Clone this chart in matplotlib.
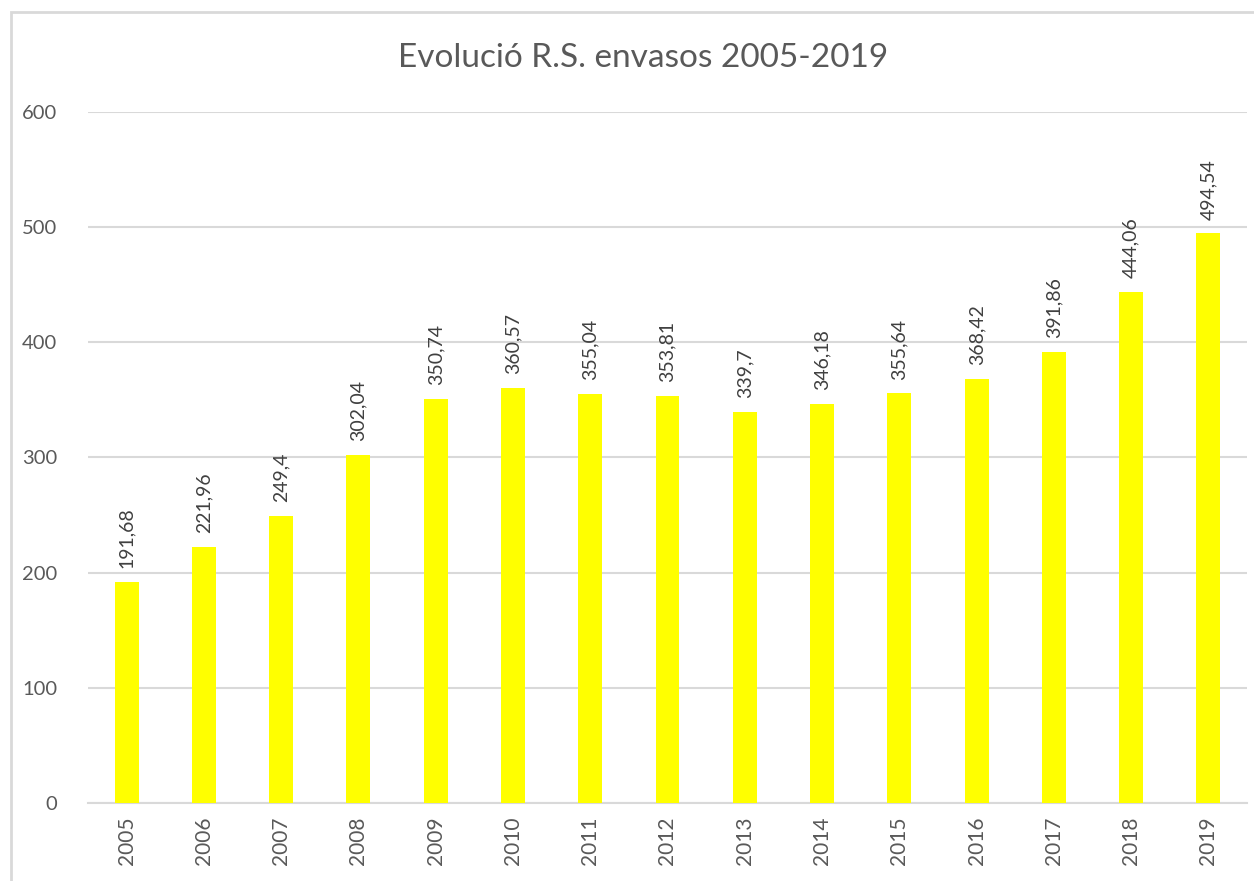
import matplotlib
matplotlib.use("Agg")
import matplotlib.pyplot as plt
from matplotlib.patches import Rectangle

years = ["2005", "2006", "2007", "2008", "2009", "2010", "2011", "2012",
         "2013", "2014", "2015", "2016", "2017", "2018", "2019"]
values = [191.68, 221.96, 249.4, 302.04, 350.74, 360.57, 355.04, 353.81,
          339.7, 346.18, 355.64, 368.42, 391.86, 444.06, 494.54]
labels = ["191,68", "221,96", "249,4", "302,04", "350,74", "360,57", "355,04",
          "353,81", "339,7", "346,18", "355,64", "368,42", "391,86", "444,06",
          "494,54"]
yticks = [0, 100, 200, 300, 400, 500, 600]

plt.rcParams['font.family'] = ['Lato', 'DejaVu Sans']
W, H = 1254, 881
fig = plt.figure(figsize=(W / 100, H / 100), dpi=100)
fig.patch.set_facecolor("white")
fig.add_artist(Rectangle((11 / W, -0.05), 1.1, 1 - 12 / H + 0.05,
                         transform=fig.transFigure, fill=False,
                         edgecolor="#d9d9d9", linewidth=2))

ax = fig.add_axes([88 / W, 1 - 803 / H, (1247 - 88) / W, (803 - 112) / H])
x = list(range(len(years)))
ax.bar(x, values, width=0.31, color="#ffff00", zorder=3)
ax.set_xlim(-0.5, len(years) - 0.5)
ax.set_ylim(0, 600)
ax.set_yticks(yticks)
ax.set_yticklabels([str(v) for v in yticks], fontsize=14.5, color="#595959")
ax.set_xticks(x)
ax.set_xticklabels(years, rotation=90, fontsize=15, color="#595959")
ax.tick_params(axis="both", length=0, pad=10)
ax.tick_params(axis="y", pad=22)
ax.grid(axis="y", color="#d9d9d9", linewidth=1.5, zorder=0)
for s in ["top", "right", "left"]:
    ax.spines[s].set_visible(False)
ax.spines["bottom"].set_color("#d9d9d9")
ax.spines["bottom"].set_linewidth(1.5)

for xi, v, lab in zip(x, values, labels):
    ax.annotate(lab, (xi, v), xytext=(0, 10), textcoords="offset points",
                rotation=90, ha="center", va="bottom", fontsize=14,
                color="#404040")

fig.text(643 / W, 1 - 58 / H, "Evolució R.S. envasos 2005-2019",
         ha="center", va="center", fontsize=24, color="#595959")

fig.savefig("out.png", dpi=100, facecolor="white")
